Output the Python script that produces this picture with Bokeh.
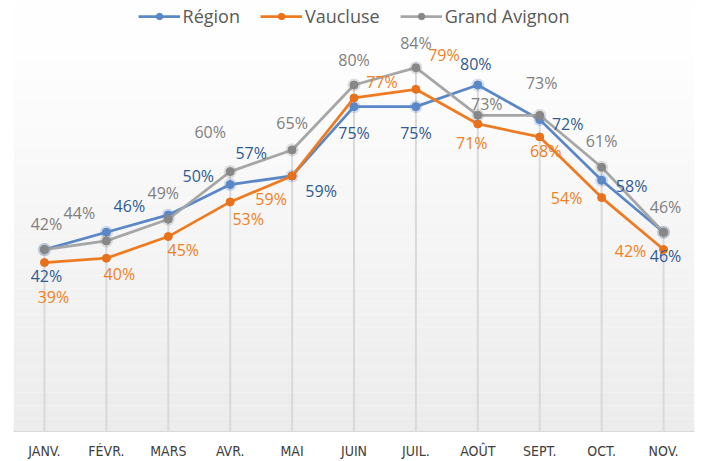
from bokeh.plotting import figure
from bokeh.models import ColumnDataSource, FactorRange, Range1d, BoxAnnotation, Legend, LegendItem
from bokeh.core.properties import value
from bokeh.embed import file_html
from bokeh.resources import INLINE

# ---- data ----
months = ["JANV.", "FÉVR.", "MARS", "AVR.", "MAI", "JUIN", "JUIL.", "AOÛT", "SEPT.", "OCT.", "NOV."]
region = [42, 46, 50, 57, 59, 75, 75, 80, 72, 58, 46]
vaucluse = [39, 40, 45, 53, 59, 77, 79, 71, 68, 54, 42]
grand_avignon = [42, 44, 49, 60, 65, 80, 84, 73, 73, 61, 46]

# ---- label placement (pixel offsets, styling only) ----
region_off = [(2, 26), (23, -26), (30, -39), (21, -32), (29, 15), (0, 26), (0, 26), (-2, -21), (28, 4), (30, 6), (2, 24)]
vaucluse_off = [(9, 34), (13, 16), (15, 13), (18, 17), (-21, 23), (28, -16), (28, -34), (-6, 19), (6, 14), (-35, 0), (-33, 1)]
ga_off = [(2, -26), (-27, -28), (-5, -26), (-20, -40), (0, -27), (0, -25), (0, -25), (9, -11), (2, -32), (0, -26), (2, -25)]

FONT = "Open Sans"
YMAX = 99.5

p = figure(width=702, height=461, x_range=FactorRange(*months, range_padding=0),
           y_range=Range1d(0, YMAX), output_backend="svg", toolbar_location=None,
           y_axis_location=None, min_border_left=13, min_border_right=8,
           min_border_top=0, min_border_bottom=30)
p.outline_line_color = None
p.xgrid.visible = False
p.ygrid.visible = False
p.background_fill_color = "white"
p.border_fill_color = "white"

# gradient background (white at top -> light grey at bottom)
n = 60
top_v = 90.0
for i in range(n):
    b = top_v * i / n
    t = top_v * (i + 1) / n if i < n - 1 else YMAX
    frac = (i + 0.5) / n
    c = int(236 + (255 - 236) * frac)
    p.add_layout(BoxAnnotation(bottom=b, top=t, fill_color=(c, c, c), fill_alpha=1.0,
                               line_color=None, level="underlay"))

# drop lines
drop_top = [max(a, b, c) for a, b, c in zip(region, vaucluse, grand_avignon)]
p.segment(x0=months, y0=drop_top, x1=months, y1=[0] * len(months), line_color="#D9D9D9", line_width=2)

series = [
    ("Région", region, region_off, "#5A87C6", "#5A87C6", "#2F5B94", True),
    ("Vaucluse", vaucluse, vaucluse_off, "#EE7B22", "#E8711A", "#F07F1E", False),
    ("Grand Avignon", grand_avignon, ga_off, "#A6A6A6", "#878787", "#7F7F7F", True),
]

items = []
for name, vals, offs, lc, mc, tc, halo in series:
    src = ColumnDataSource(dict(x=months, y=vals))
    ln = p.line("x", "y", source=src, line_color=lc, line_width=2.75)
    if halo:
        p.scatter("x", "y", source=src, size=13, fill_color=mc, fill_alpha=0.25, line_color=None)
    sc = p.scatter("x", "y", source=src, size=8, fill_color=mc, line_color=mc)
    items.append(LegendItem(label=name, renderers=[ln, sc]))

for name, vals, offs, lc, mc, tc, halo in series:
    lsrc = ColumnDataSource(dict(x=months, y=vals, t=[f"{v}%" for v in vals],
                                 dx=[o[0] for o in offs], dy=[o[1] for o in offs]))
    p.text("x", "y", text="t", source=lsrc, x_offset="dx", y_offset="dy",
           text_align="center", text_baseline="middle", text_font=value(FONT),
           text_font_size="16px", text_color=tc)

legend = Legend(items=items, location="top_center", orientation="horizontal",
                border_line_color=None, background_fill_alpha=0,
                label_text_font=FONT, label_text_font_size="18px", label_text_color="#595959",
                glyph_width=42, glyph_height=16, spacing=20, padding=0, margin=4,
                label_standoff=3, label_height=20)
p.add_layout(legend)

ax = p.xaxis[0]
ax.axis_line_color = "#D9D9D9"
ax.axis_line_width = 1
ax.major_tick_line_color = None
ax.minor_tick_line_color = None
ax.major_label_standoff = 5
ax.major_label_text_font = "DejaVu Sans Condensed"
ax.major_label_text_font_size = "14px"
ax.major_label_text_color = "#404040"

open("out.html", "w").write(file_html(p, INLINE))
